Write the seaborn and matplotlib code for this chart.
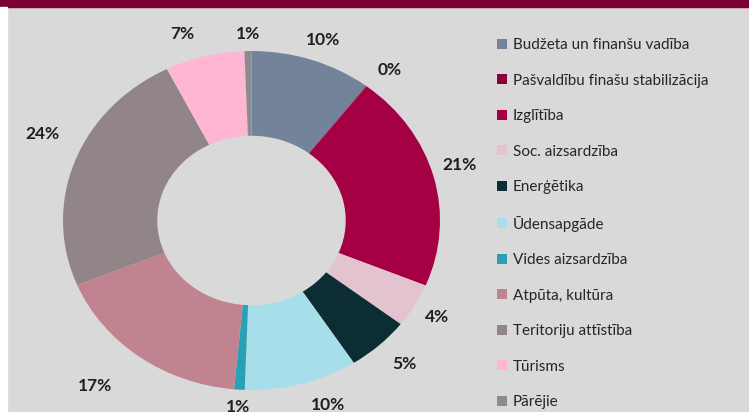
import numpy as np
import matplotlib.pyplot as plt
import seaborn as sns
from matplotlib.lines import Line2D
from matplotlib.patches import Rectangle

# Nozares un to daļas (%), pulksteņrādītāja virzienā no augšas
sectors = [
    "Budžeta un finanšu vadība",
    "Pašvaldību finašu stabilizācija",
    "Izglītība",
    "Soc. aizsardzība",
    "Enerģētika",
    "Ūdensapgāde",
    "Vides aizsardzība",
    "Atpūta, kultūra",
    "Teritoriju attīstība",
    "Tūrisms",
    "Pārējie",
]
shares = [10.4, 0.05, 20.8, 4.2, 5.4, 9.7, 0.9, 17.3, 23.8, 6.8, 0.6]
colors = ["#738399", "#8b0038", "#a50044", "#e3c3cf", "#0c2d33", "#a6dfe9",
          "#2aa0b5", "#c0838f", "#918587", "#ffb6d2", "#8a8c8e"]

# procentu etiķešu novietojums: attālums no centra (rādiusa daļās)
# un nobīde grādos pulksteņrādītāja virzienā no sektora vidus
label_r = [1.13, 1.15, 1.15, 1.14, 1.17, 1.16, 1.10, 1.28, 1.22, 1.16, 1.10]
label_dtheta = [0.8, 2, -1.7, 0, -1.2, -5, 0, 4, 4.2, -4, 0]

sns.set_style("white")
palette = sns.color_palette(colors)
plt.rcParams['font.family'] = ['Lato', 'DejaVu Sans']

W, H = 749, 412
fig = plt.figure(figsize=(W / 100, H / 100), dpi=100, facecolor="#d9d9d9")

# tumšā virsraksta josla augšā un balta mala kreisajā pusē
fig.patches.append(Rectangle((0, 1 - 7 / H), 1, 7 / H, transform=fig.transFigure,
                             color="#7a0034", zorder=0))
fig.patches.append(Rectangle((0, 0), 7 / W, 1 - 7 / H, transform=fig.transFigure,
                             color="white", zorder=0))

# gredzena centrs un rādiusi pikseļos (attēls ir nedaudz izstiepts)
cx, cy, rx, ry = 251.5, 220.5, 188.5, 169.5
lim = 1.3
ax = fig.add_axes([(cx - lim * rx) / W, (H - cy - lim * ry) / H,
                   2 * lim * rx / W, 2 * lim * ry / H])
ax.set_facecolor("none")

wedges, _, pct_texts = ax.pie(
    shares, colors=palette, startangle=90, counterclock=False, radius=1,
    wedgeprops=dict(width=0.5, linewidth=0),
    autopct=lambda p: f"{p:.0f}%", pctdistance=1.17,
    textprops=dict(fontsize=12.5, fontweight="bold", color="#1f1f1f"))
for w, t, r, dt in zip(wedges, pct_texts, label_r, label_dtheta):
    mid = np.deg2rad((w.theta1 + w.theta2) / 2 - dt)
    t.set_position((r * np.cos(mid), r * np.sin(mid)))
ax.set_aspect("auto")
ax.set_xlim(-lim, lim)
ax.set_ylim(-lim, lim)
ax.axis("off")

handles = [Line2D([], [], marker="s", linestyle="", markersize=6.5,
                  markeredgewidth=0, color=c) for c in palette]
fig.legend(handles, sectors, loc="upper left",
           bbox_to_anchor=(497 / W, 1 - 38 / H), frameon=False,
           fontsize=11, labelcolor="#262626", handlelength=0.67,
           handletextpad=0.36, labelspacing=1.41, borderpad=0,
           borderaxespad=0)

fig.savefig("out.png", dpi=100, facecolor=fig.get_facecolor())
